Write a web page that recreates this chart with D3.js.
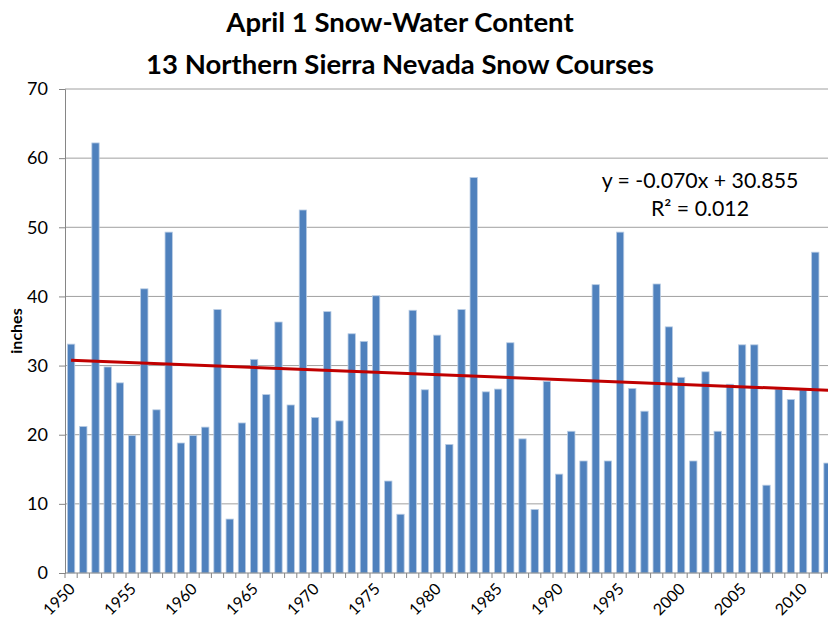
<!DOCTYPE html>
<html lang="en">
  <head>
    <meta charset="utf-8" />
    <title>April 1 Snow-Water Content</title>
    <script src="https://cdnjs.cloudflare.com/ajax/libs/d3/7.8.5/d3.min.js"></script>
    <style type="text/css">
      body {
        margin: 0;
        background: #fff;
      }

      svg text {
        font-family: Lato, "Open Sans", sans-serif;
        fill: #000;
      }

      .title {
        font-size: 27.5px;
        font-weight: bold;
      }

      .bar {
        fill: #4f81bd;
        stroke: #b8cce4;
        stroke-width: 0.8;
      }

      .trend {
        fill: none;
        stroke: #c00000;
        stroke-width: 3;
      }
    </style>
  </head>

  <body>
    <div id="playground"></div>

    <script>
      // data (inches, April 1 snow-water content)
      const years = d3.range(1950, 2013);
      const swc = [
        33.1, 21.2, 62.2, 29.8, 27.5, 19.9, 41.1, 23.6, 49.3, 18.8,
        19.9, 21.1, 38.1, 7.8, 21.7, 30.9, 25.8, 36.3, 24.3, 52.5,
        22.5, 37.8, 22.0, 34.6, 33.5, 40.1, 13.3, 8.5, 38.0, 26.5,
        34.4, 18.6, 38.1, 57.2, 26.2, 26.6, 33.3, 19.4, 9.2, 27.7,
        14.3, 20.5, 16.2, 41.7, 16.2, 49.3, 26.7, 23.4, 41.8, 35.6,
        28.3, 16.2, 29.1, 20.5, 27.3, 33.0, 33.0, 12.7, 26.6, 25.1,
        26.5, 46.4, 15.9
      ];
      const yTicks = [0, 10, 20, 30, 40, 50, 60, 70];
      const yearLabels = [1950, 1955, 1960, 1965, 1970, 1975, 1980, 1985, 1990, 1995, 2000, 2005, 2010];
      const titleLines = ["April 1 Snow-Water Content", "13 Northern Sierra Nevada Snow Courses"];
      // trendline as printed on the chart (x = 1, 2, 3 ...)
      const slope = -0.070;
      const intercept = 30.855;
      const eqLines = ["y = -0.070x + 30.855", "R\u00b2 = 0.012"];

      const width = 828;
      const height = 620;
      const marginTop = 89;
      const marginLeft = 65;
      const plotBottom = 573;
      const step = 12.2;
      const plotRight = marginLeft + step * years.length;

      const svg = d3
        .select("#playground")
        .append("svg")
        .attr("width", width)
        .attr("height", height)
        .attr("viewBox", [0, 0, width, height]);

      const x = d3.scaleBand()
        .domain(years)
        .range([marginLeft, plotRight])
        .paddingInner(0.4)
        .paddingOuter(0.2);

      const y = d3.scaleLinear()
        .domain([0, 70])
        .range([plotBottom, marginTop]);

      // gridlines
      svg.append("g")
        .selectAll("line")
        .data(yTicks.filter(d => d > 0))
        .join("line")
        .attr("x1", marginLeft)
        .attr("x2", plotRight)
        .attr("y1", d => y(d))
        .attr("y2", d => y(d))
        .attr("stroke", "#a0a0a0")
        .attr("stroke-width", 1);

      // bars
      svg.append("g")
        .selectAll("rect")
        .data(years)
        .join("rect")
        .attr("class", "bar")
        .attr("x", d => x(d))
        .attr("width", x.bandwidth())
        .attr("y", (d, i) => y(swc[i]))
        .attr("height", (d, i) => y(0) - y(swc[i]));

      // y axis
      svg.append("g")
        .attr("transform", `translate(${marginLeft},0)`)
        .call(d3.axisLeft(y).tickValues(yTicks).tickSize(6).tickPadding(11))
        .call(g => g.selectAll("line, path").attr("stroke", "#868686"))
        .call(g => g.selectAll("text").attr("font-size", 18).attr("fill", "#000"));

      // x axis (ticks at category boundaries)
      const xAxis = svg.append("g")
        .attr("transform", `translate(0,${plotBottom})`);

      xAxis.append("line")
        .attr("x1", marginLeft)
        .attr("x2", plotRight)
        .attr("stroke", "#868686");

      xAxis.selectAll(".tick")
        .data(years)
        .join("line")
        .attr("class", "tick")
        .attr("x1", d => x(d) - x.step() * x.paddingInner() / 2)
        .attr("x2", d => x(d) - x.step() * x.paddingInner() / 2)
        .attr("y1", 0)
        .attr("y2", 5)
        .attr("stroke", "#868686");

      xAxis.selectAll("text")
        .data(yearLabels)
        .join("text")
        .attr("transform", d => `translate(${x(d) + x.bandwidth() / 2 + 5},${17}) rotate(-45)`)
        .attr("text-anchor", "end")
        .attr("font-size", 16)
        .text(d => d);

      // trendline
      const trend = d3.line()
        .x(d => x(years[0]) + x.bandwidth() / 2 + (d - 1) * x.step())
        .y(d => y(slope * d + intercept));

      svg.append("path")
        .attr("class", "trend")
        .attr("d", trend([1, years.length + 1]));

      // equation
      svg.append("g")
        .selectAll("text")
        .data(eqLines)
        .join("text")
        .attr("x", 700)
        .attr("y", (d, i) => 188 + i * 28)
        .attr("text-anchor", "middle")
        .attr("font-size", 21.3)
        .text(d => d);

      // y label
      svg.append("text")
        .attr("transform", `translate(22,331) rotate(-90)`)
        .attr("text-anchor", "middle")
        .attr("font-size", 16)
        .attr("font-weight", "bold")
        .text("inches");

      // title
      svg.append("g")
        .selectAll("text")
        .data(titleLines)
        .join("text")
        .attr("class", "title")
        .attr("x", 400)
        .attr("y", (d, i) => 32 + i * 42)
        .attr("text-anchor", "middle")
        .text(d => d);
    </script>
  </body>
</html>
